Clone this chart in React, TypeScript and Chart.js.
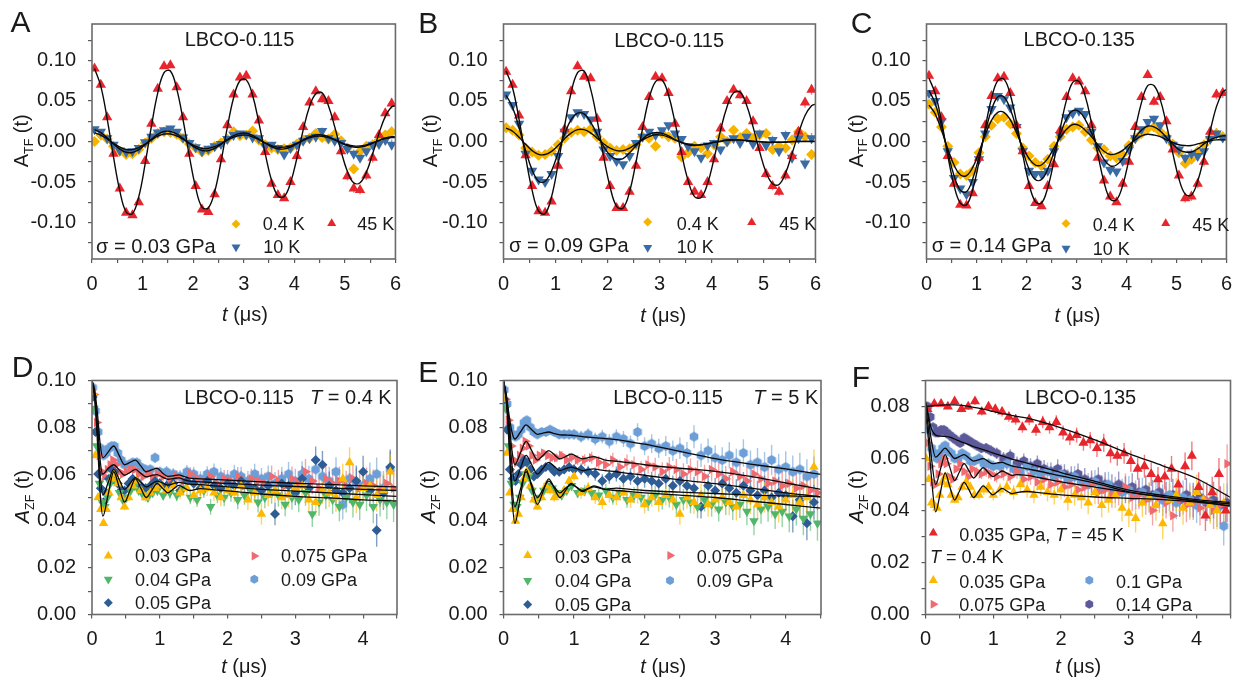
import React, { useEffect, useRef } from 'react';
import { Chart, registerables } from 'chart.js';

Chart.register(...registerables);

const FONT = '"Liberation Sans", Arial, Helvetica, sans-serif';
const INK = '#1a1a1a';

// ---------------- axis ticks ----------------
const xTicksTF = [0, 0.5, 1, 1.5, 2, 2.5, 3, 3.5, 4, 4.5, 5, 5.5, 6];
const xLabelsTF = [0, 1, 2, 3, 4, 5, 6];
const yTicksTF = [-0.125, -0.1, -0.075, -0.05, -0.025, 0, 0.025, 0.05, 0.075, 0.1, 0.125];
const yLabelsTF = [-0.1, -0.05, 0, 0.05, 0.1];
const xTicksZF = [0, 0.5, 1, 1.5, 2, 2.5, 3, 3.5, 4, 4.5];
const xLabelsZF = [0, 1, 2, 3, 4];
const yTicksZF = [0, 0.01, 0.02, 0.03, 0.04, 0.05, 0.06, 0.07, 0.08, 0.09, 0.1];
const yLabelsZF = [0, 0.02, 0.04, 0.06, 0.08, 0.1];
const yTicksF = [0, 0.01, 0.02, 0.03, 0.04, 0.05, 0.06, 0.07, 0.08, 0.09];
const yLabelsF = [0, 0.02, 0.04, 0.06, 0.08];

// ---------------- TF panels (A, B, C) ----------------
const tTF = [
  0.05, 0.175, 0.3, 0.425, 0.55, 0.675, 0.8, 0.925, 1.05, 1.175, 1.3, 1.425,
  1.55, 1.675, 1.8, 1.925, 2.05, 2.175, 2.3, 2.425, 2.55, 2.675, 2.8, 2.925,
  3.05, 3.175, 3.3, 3.425, 3.55, 3.675, 3.8, 3.925, 4.05, 4.175, 4.3, 4.425,
  4.55, 4.675, 4.8, 4.925, 5.05, 5.175, 5.3, 5.425, 5.55, 5.675, 5.8, 5.925,
];
const tFitTF = [
  0.05, 0.175, 0.3, 0.425, 0.55, 0.675, 0.8, 0.925, 1.05, 1.175, 1.3, 1.425,
  1.55, 1.675, 1.8, 1.925, 2.05, 2.175, 2.3, 2.425, 2.55, 2.675, 2.8, 2.925,
  3.05, 3.175, 3.3, 3.425, 3.55, 3.675, 3.8, 3.925, 4.05, 4.175, 4.3, 4.425,
  4.55, 4.675, 4.8, 4.925, 5.05, 5.175, 5.3, 5.425, 5.55, 5.675, 5.8, 5.925, 6.0,
];
const errTF = [
  0.001, 0.001, 0.001, 0.001, 0.0012, 0.0012, 0.0012, 0.0013, 0.0013, 0.0014, 0.0014, 0.0015,
  0.0016, 0.0017, 0.0018, 0.0019, 0.002, 0.0021, 0.0022, 0.0023, 0.0024, 0.0025, 0.0026, 0.0027,
  0.0028, 0.0029, 0.003, 0.0031, 0.0032, 0.0033, 0.0034, 0.0035, 0.0036, 0.0037, 0.0038, 0.004,
  0.0042, 0.0044, 0.0046, 0.0048, 0.005, 0.0052, 0.0054, 0.0056, 0.0058, 0.006, 0.0062, 0.0064,
];

// Panel A (LBCO-0.115, 0.03 GPa)
const aRed = [
  0.090, 0.070, 0.030, -0.015, -0.058, -0.088, -0.091, -0.075, -0.024, 0.022, 0.065, 0.093,
  0.094, 0.067, 0.030, -0.015, -0.055, -0.084, -0.087, -0.065, -0.022, 0.020, 0.058, 0.079,
  0.081, 0.058, 0.026, -0.013, -0.052, -0.066, -0.070, -0.050, -0.018, 0.018, 0.048, 0.062,
  0.052, 0.050, 0.030, -0.012, -0.043, -0.058, -0.060, -0.042, -0.020, 0.008, 0.035, 0.047,
];
const aBlue = [
  0.015, 0.012, 0.004, -0.004, -0.011, -0.013, -0.012, -0.008, -0.001, 0.006, 0.011, 0.014,
  0.016, 0.012, 0.005, -0.002, -0.007, -0.012, -0.009, -0.006, -0.003, 0.003, 0.008, 0.010,
  0.009, 0.005, 0.004, -0.006, -0.004, -0.008, -0.016, -0.008, -0.004, 0.001, 0.004, 0.006,
  0.013, 0.004, 0.001, -0.002, -0.009, -0.015, -0.020, -0.012, -0.004, -0.003, 0.002, -0.004,
];
const aYellow = [
  0.000, 0.008, 0.003, -0.006, -0.012, -0.016, -0.015, -0.010, -0.002, 0.004, 0.010, 0.012,
  0.011, 0.009, 0.004, -0.003, -0.008, -0.013, -0.011, -0.006, -0.002, 0.003, 0.012, 0.007,
  0.008, 0.013, 0.002, -0.004, -0.008, -0.010, -0.009, -0.008, -0.003, 0.002, 0.004, 0.010,
  0.005, 0.003, 0.009, 0.001, -0.008, -0.034, -0.012, -0.006, -0.004, 0.002, 0.008, 0.012,
];
const aFitRed = [
  0.090, 0.068, 0.028, -0.019, -0.061, -0.087, -0.089, -0.068, -0.028, 0.019, 0.060, 0.085,
  0.087, 0.065, 0.027, -0.018, -0.057, -0.081, -0.082, -0.062, -0.025, 0.017, 0.054, 0.075,
  0.076, 0.057, 0.023, -0.015, -0.048, -0.067, -0.068, -0.051, -0.021, 0.014, 0.043, 0.059,
  0.060, 0.044, 0.018, -0.012, -0.037, -0.051, -0.051, -0.038, -0.015, 0.010, 0.031, 0.043, 0.044,
];
const aFitYellow = [
  0.0146, 0.0109, 0.0045, -0.003, -0.0095, -0.0133, -0.0135, -0.0101, -0.0041, 0.0027, 0.0088, 0.0123,
  0.0124, 0.0093, 0.0038, -0.0025, -0.008, -0.0111, -0.0113, -0.0085, -0.0035, 0.0023, 0.0072, 0.0101,
  0.0102, 0.0076, 0.0031, -0.0021, -0.0065, -0.009, -0.0091, -0.0068, -0.0028, 0.0018, 0.0058, 0.008,
  0.008, 0.0059, 0.0024, -0.0016, -0.005, -0.0068, -0.0069, -0.0051, -0.0021, 0.0014, 0.0042, 0.0058, 0.006,
];
const aFitBlue = [
  0.0107, 0.008, 0.0033, -0.0022, -0.007, -0.0098, -0.01, -0.0075, -0.0031, 0.002, 0.0065, 0.0091,
  0.0093, 0.0069, 0.0028, -0.0019, -0.006, -0.0084, -0.0085, -0.0064, -0.0026, 0.0017, 0.0055, 0.0077,
  0.0078, 0.0058, 0.0024, -0.0016, -0.005, -0.0069, -0.007, -0.0053, -0.0022, 0.0014, 0.0045, 0.0063,
  0.0064, 0.0047, 0.0019, -0.0013, -0.004, -0.0055, -0.0056, -0.0042, -0.0017, 0.0011, 0.0035, 0.0049, 0.005,
];

// Panel B (LBCO-0.115, 0.09 GPa)
const bRed = [
  0.086, 0.070, 0.032, -0.017, -0.055, -0.086, -0.088, -0.074, -0.030, 0.015, 0.062, 0.093,
  0.080, 0.078, 0.028, -0.020, -0.055, -0.082, -0.082, -0.062, -0.030, 0.018, 0.055, 0.080,
  0.078, 0.060, 0.022, -0.013, -0.050, -0.062, -0.066, -0.050, -0.022, 0.016, 0.050, 0.064,
  0.057, 0.050, 0.025, -0.008, -0.040, -0.055, -0.062, -0.042, -0.018, 0.012, 0.048, 0.064,
];
const bBlue = [
  0.058, 0.045, 0.022, -0.015, -0.036, -0.047, -0.050, -0.040, -0.018, 0.012, 0.030, 0.036,
  0.034, 0.027, 0.012, -0.010, -0.018, -0.024, -0.028, -0.018, -0.002, 0.006, 0.012, 0.008,
  0.014, 0.020, 0.010, 0.003, -0.006, -0.012, -0.020, -0.005, -0.002, -0.010, 0.000, 0.004,
  -0.002, 0.006, -0.003, 0.010, -0.005, 0.002, -0.012, 0.008, -0.020, 0.004, -0.027, 0.004,
];
const bYellow = [
  0.017, 0.014, 0.008, -0.008, -0.013, -0.017, -0.016, -0.012, -0.004, 0.004, 0.011, 0.014,
  0.012, 0.015, 0.006, -0.002, -0.008, -0.011, -0.010, -0.009, -0.004, 0.006, 0.004, -0.006,
  0.010, 0.006, 0.004, -0.019, -0.014, -0.006, -0.008, -0.015, -0.004, 0.006, 0.000, 0.014,
  0.005, 0.010, 0.004, 0.008, 0.010, -0.010, -0.006, -0.008, 0.002, 0.012, 0.006, -0.016,
];
const bFitRed = [
  0.087, 0.066, 0.027, -0.019, -0.060, -0.086, -0.089, -0.068, -0.028, 0.019, 0.060, 0.085,
  0.087, 0.065, 0.027, -0.018, -0.056, -0.080, -0.082, -0.062, -0.025, 0.016, 0.053, 0.074,
  0.076, 0.057, 0.023, -0.015, -0.048, -0.068, -0.069, -0.052, -0.021, 0.014, 0.043, 0.060,
  0.061, 0.045, 0.018, -0.012, -0.038, -0.052, -0.053, -0.039, -0.015, 0.010, 0.032, 0.044, 0.046,
];
const bFitBlue = [
  0.057, 0.042, 0.017, -0.011, -0.035, -0.049, -0.049, -0.036, -0.014, 0.009, 0.027, 0.035,
  0.034, 0.024, 0.009, -0.006, -0.017, -0.022, -0.021, -0.014, -0.005, 0.003, 0.009, 0.011,
  0.010, 0.007, 0.002, -0.001, -0.004, -0.005, -0.004, -0.003, -0.001, 0.000, 0.002, 0.002,
  0.002, 0.001, 0.000, 0.000, -0.001, -0.001, -0.001, -0.001, 0.000, 0.000, 0.000, 0.000, 0.000,
];
const bFitYellow = [
  0.0166, 0.0126, 0.0052, -0.0035, -0.0112, -0.0158, -0.0161, -0.0121, -0.0049, 0.0033, 0.0104, 0.0146,
  0.0146, 0.0107, 0.0042, -0.0027, -0.0083, -0.0113, -0.0112, -0.0081, -0.0032, 0.002, 0.0061, 0.0083,
  0.0078, 0.0054, 0.002, -0.0012, -0.0034, -0.0042, -0.0039, -0.0026, -0.0009, 0.0005, 0.0014, 0.0019,
  0.0019, 0.0013, 0.0005, -0.0003, -0.0008, -0.001, -0.0009, -0.0006, -0.0002, 0.0001, 0.0002, 0.0002, 0.0002,
];

// Panel C (LBCO-0.135, 0.14 GPa)
const cRed = [
  0.081, 0.062, 0.030, -0.018, -0.052, -0.078, -0.079, -0.064, -0.020, 0.020, 0.056, 0.078,
  0.080, 0.060, 0.020, -0.012, -0.055, -0.076, -0.080, -0.055, -0.028, 0.014, 0.055, 0.078,
  0.074, 0.062, 0.020, -0.020, -0.048, -0.068, -0.075, -0.052, -0.025, 0.018, 0.055, 0.082,
  0.049, 0.055, 0.025, -0.010, -0.042, -0.070, -0.068, -0.052, -0.025, 0.012, 0.058, 0.060,
];
const cBlue = [
  0.060, 0.050, 0.025, -0.012, -0.045, -0.058, -0.065, -0.050, -0.022, 0.010, 0.040, 0.056,
  0.052, 0.042, 0.018, -0.012, -0.036, -0.040, -0.040, -0.036, -0.012, 0.008, 0.030, 0.035,
  0.038, 0.034, 0.012, -0.006, -0.026, -0.035, -0.037, -0.024, -0.010, 0.004, 0.015, 0.024,
  0.028, 0.020, 0.004, -0.004, -0.010, -0.020, -0.015, -0.018, -0.012, 0.003, 0.010, 0.005,
];
const cYellow = [
  0.046, 0.036, 0.018, -0.006, -0.026, -0.040, -0.042, -0.036, -0.014, 0.006, 0.020, 0.028,
  0.030, 0.022, 0.010, -0.008, -0.018, -0.026, -0.030, -0.022, -0.006, 0.006, 0.015, 0.018,
  0.020, 0.012, 0.002, -0.008, -0.010, -0.018, -0.020, -0.016, -0.005, 0.004, 0.010, 0.016,
  0.018, 0.012, 0.006, -0.003, -0.014, -0.027, -0.022, -0.012, -0.004, 0.004, 0.010, 0.006,
];
const cFitRed = [
  0.078, 0.059, 0.025, -0.017, -0.054, -0.076, -0.078, -0.059, -0.025, 0.017, 0.053, 0.075,
  0.077, 0.058, 0.024, -0.016, -0.052, -0.074, -0.076, -0.057, -0.024, 0.016, 0.051, 0.073,
  0.074, 0.056, 0.023, -0.015, -0.050, -0.071, -0.072, -0.054, -0.022, 0.015, 0.048, 0.069,
  0.069, 0.052, 0.021, -0.014, -0.046, -0.065, -0.066, -0.049, -0.020, 0.013, 0.043, 0.061, 0.064,
];
const cFitBlue = [
  0.063, 0.047, 0.019, -0.013, -0.042, -0.060, -0.062, -0.046, -0.019, 0.012, 0.039, 0.055,
  0.055, 0.040, 0.016, -0.011, -0.034, -0.047, -0.047, -0.034, -0.013, 0.009, 0.028, 0.038,
  0.037, 0.027, 0.011, -0.007, -0.022, -0.030, -0.029, -0.021, -0.008, 0.005, 0.014, 0.019,
  0.018, 0.013, 0.005, -0.003, -0.010, -0.013, -0.013, -0.009, -0.003, 0.002, 0.005, 0.007, 0.007,
];
const cFitYellow = [
  0.045, 0.034, 0.014, -0.009, -0.029, -0.041, -0.042, -0.032, -0.013, 0.008, 0.026, 0.036,
  0.036, 0.027, 0.011, -0.007, -0.021, -0.029, -0.029, -0.021, -0.008, 0.005, 0.015, 0.021,
  0.020, 0.014, 0.006, -0.004, -0.012, -0.016, -0.015, -0.011, -0.004, 0.002, 0.007, 0.009,
  0.008, 0.006, 0.002, -0.001, -0.004, -0.005, -0.005, -0.003, -0.001, 0.001, 0.002, 0.002, 0.002,
];

// ---------------- ZF panels (D, E, F) ----------------
const tZFa = [
  0.01, 0.05, 0.09, 0.13, 0.17, 0.21, 0.25, 0.29, 0.33, 0.38, 0.43, 0.48, 0.54, 0.6, 0.66, 0.72, 0.79, 0.86, 0.93, 1.0,
  1.1, 1.2, 1.3, 1.4, 1.5, 1.6, 1.7, 1.8, 1.9, 2.0, 2.1, 2.2, 2.3, 2.4, 2.5, 2.6, 2.7, 2.8, 2.9, 3.0,
  3.1, 3.2, 3.3, 3.4, 3.5, 3.6, 3.7, 3.8, 3.9, 4.0, 4.1, 4.2, 4.3, 4.4,
];
const tZFb = [
  0.03, 0.07, 0.11, 0.15, 0.19, 0.23, 0.27, 0.31, 0.355, 0.405, 0.455, 0.51, 0.57, 0.63, 0.69, 0.755, 0.825, 0.895, 0.965, 1.05,
  1.15, 1.25, 1.35, 1.45, 1.55, 1.65, 1.75, 1.85, 1.95, 2.05, 2.15, 2.25, 2.35, 2.45, 2.55, 2.65, 2.75, 2.85, 2.95, 3.05,
  3.15, 3.25, 3.35, 3.45, 3.55, 3.65, 3.75, 3.85, 3.95, 4.05, 4.15, 4.25, 4.35, 4.45,
];
const errZF = [
  0.0005, 0.0005, 0.0006, 0.0007, 0.0008, 0.0009, 0.001, 0.001, 0.0011, 0.0012,
  0.0013, 0.0014, 0.0015, 0.0016, 0.0017, 0.0018, 0.0019, 0.002, 0.0021, 0.0022,
  0.0025, 0.0026, 0.0028, 0.0029, 0.0031, 0.0032, 0.0034, 0.0035, 0.0037, 0.0038,
  0.004, 0.0041, 0.0043, 0.0044, 0.0046, 0.0047, 0.0049, 0.005, 0.0052, 0.0053,
  0.0055, 0.0056, 0.0058, 0.0059, 0.0061, 0.0062, 0.0064, 0.0065, 0.0067, 0.0068,
  0.007, 0.0071, 0.0073, 0.0075,
];
const tFitZF = [0, 0.04, 0.08, 0.12, 0.16, 0.24, 0.32, 0.4, 0.48, 0.56, 0.64, 0.72, 0.8, 0.88, 0.96, 1.04, 1.12, 1.2, 1.28, 1.36, 1.44, 1.6, 1.8, 2.0, 2.5, 3.0, 3.5, 4.0, 4.5];

// Panel D (LBCO-0.115, T = 0.4 K)
const d003 = [
  0.095, 0.068, 0.050, 0.045, 0.039, 0.045, 0.052, 0.058, 0.060, 0.056, 0.050, 0.046, 0.050, 0.055, 0.057, 0.053, 0.050, 0.052, 0.054, 0.055,
  0.053, 0.055, 0.052, 0.054, 0.051, 0.053, 0.054, 0.052, 0.050, 0.053, 0.052, 0.055, 0.049, 0.052, 0.043, 0.051, 0.053, 0.050, 0.051, 0.054,
  0.055, 0.049, 0.048, 0.053, 0.052, 0.050, 0.058, 0.065, 0.050, 0.054, 0.055, 0.051, 0.053, 0.061,
];
const d004 = [
  0.088, 0.072, 0.056, 0.048, 0.046, 0.050, 0.056, 0.059, 0.057, 0.052, 0.049, 0.050, 0.053, 0.055, 0.053, 0.051, 0.050, 0.052, 0.053, 0.051,
  0.052, 0.051, 0.054, 0.050, 0.049, 0.053, 0.046, 0.051, 0.050, 0.052, 0.049, 0.051, 0.053, 0.048, 0.050, 0.052, 0.051, 0.047, 0.050, 0.049,
  0.052, 0.043, 0.048, 0.051, 0.049, 0.046, 0.050, 0.048, 0.047, 0.051, 0.046, 0.049, 0.048, 0.047,
];
const d005 = [
  0.093, 0.078, 0.060, 0.054, 0.048, 0.052, 0.058, 0.062, 0.061, 0.056, 0.053, 0.053, 0.056, 0.058, 0.057, 0.055, 0.054, 0.055, 0.057, 0.056,
  0.055, 0.056, 0.053, 0.057, 0.056, 0.054, 0.057, 0.055, 0.054, 0.056, 0.055, 0.057, 0.055, 0.054, 0.053, 0.055, 0.043, 0.056, 0.055, 0.052,
  0.058, 0.054, 0.066, 0.064, 0.055, 0.053, 0.052, 0.054, 0.057, 0.061, 0.053, 0.036, 0.052, 0.063,
];
const d0075 = [
  0.094, 0.082, 0.068, 0.061, 0.059, 0.062, 0.064, 0.066, 0.064, 0.061, 0.060, 0.061, 0.062, 0.062, 0.060, 0.059, 0.060, 0.059, 0.060, 0.059,
  0.058, 0.059, 0.057, 0.060, 0.058, 0.057, 0.059, 0.056, 0.058, 0.057, 0.059, 0.055, 0.058, 0.057, 0.056, 0.059, 0.057, 0.055, 0.058, 0.056,
  0.061, 0.057, 0.054, 0.058, 0.056, 0.057, 0.055, 0.058, 0.054, 0.056, 0.055, 0.053, 0.056, 0.054,
];
const d009 = [
  0.097, 0.087, 0.078, 0.071, 0.068, 0.069, 0.071, 0.072, 0.072, 0.069, 0.066, 0.064, 0.064, 0.065, 0.065, 0.063, 0.062, 0.062, 0.067, 0.061,
  0.061, 0.060, 0.059, 0.061, 0.060, 0.058, 0.060, 0.061, 0.059, 0.058, 0.060, 0.059, 0.057, 0.060, 0.058, 0.059, 0.056, 0.058, 0.060, 0.057,
  0.060, 0.058, 0.062, 0.059, 0.057, 0.061, 0.047, 0.058, 0.056, 0.055, 0.058, 0.060, 0.054, 0.062,
];
const dFit009 = [0.1, 0.096, 0.086, 0.073, 0.067, 0.0695, 0.072, 0.068, 0.064, 0.065, 0.066, 0.0635, 0.061, 0.0618, 0.0625, 0.0605, 0.059, 0.0592, 0.0597, 0.059, 0.0583, 0.058, 0.0577, 0.0574, 0.0567, 0.0561, 0.0556, 0.055, 0.0545];
const dFit0075 = [0.1, 0.094, 0.082, 0.066, 0.06, 0.0625, 0.064, 0.0618, 0.0595, 0.0607, 0.062, 0.0603, 0.0588, 0.0594, 0.0598, 0.0587, 0.0578, 0.0581, 0.0584, 0.0576, 0.057, 0.0567, 0.0563, 0.056, 0.0553, 0.0547, 0.0541, 0.0535, 0.053];
const dFit005 = [0.1, 0.093, 0.078, 0.06, 0.051, 0.0565, 0.062, 0.0578, 0.0535, 0.056, 0.0585, 0.0565, 0.0545, 0.0558, 0.057, 0.0562, 0.0553, 0.0559, 0.0565, 0.0561, 0.0557, 0.0555, 0.055, 0.0545, 0.0535, 0.0527, 0.052, 0.0512, 0.0505];
const dFit003 = [0.1, 0.092, 0.074, 0.052, 0.042, 0.0515, 0.061, 0.0545, 0.048, 0.053, 0.058, 0.054, 0.05, 0.053, 0.056, 0.054, 0.052, 0.0536, 0.0552, 0.0541, 0.053, 0.0538, 0.0533, 0.0528, 0.0515, 0.0505, 0.0498, 0.049, 0.0485];

// Panel E (LBCO-0.115, T = 5 K)
const e003 = [
  0.092, 0.069, 0.052, 0.045, 0.040, 0.043, 0.050, 0.058, 0.061, 0.055, 0.049, 0.046, 0.050, 0.055, 0.053, 0.050, 0.051, 0.053, 0.057, 0.059,
  0.052, 0.054, 0.050, 0.048, 0.051, 0.050, 0.052, 0.049, 0.051, 0.047, 0.050, 0.048, 0.051, 0.049, 0.043, 0.050, 0.048, 0.051, 0.047, 0.049,
  0.050, 0.048, 0.046, 0.051, 0.049, 0.047, 0.050, 0.048, 0.046, 0.049, 0.051, 0.048, 0.050, 0.063,
];
const e004 = [
  0.088, 0.072, 0.056, 0.047, 0.046, 0.050, 0.056, 0.060, 0.059, 0.053, 0.049, 0.050, 0.053, 0.055, 0.054, 0.052, 0.051, 0.053, 0.055, 0.052,
  0.053, 0.052, 0.051, 0.053, 0.050, 0.052, 0.049, 0.051, 0.050, 0.048, 0.051, 0.049, 0.050, 0.047, 0.049, 0.048, 0.046, 0.049, 0.047, 0.045,
  0.048, 0.046, 0.047, 0.044, 0.040, 0.045, 0.046, 0.043, 0.044, 0.042, 0.045, 0.041, 0.043, 0.039,
];
const e005 = [
  0.092, 0.079, 0.062, 0.058, 0.057, 0.060, 0.064, 0.066, 0.065, 0.062, 0.059, 0.060, 0.062, 0.063, 0.063, 0.061, 0.061, 0.062, 0.063, 0.062,
  0.062, 0.061, 0.060, 0.057, 0.059, 0.060, 0.058, 0.059, 0.057, 0.058, 0.057, 0.056, 0.058, 0.055, 0.057, 0.055, 0.054, 0.046, 0.055, 0.053,
  0.056, 0.054, 0.052, 0.055, 0.053, 0.051, 0.053, 0.050, 0.052, 0.051, 0.042, 0.049, 0.039, 0.048,
];
const e0075 = [
  0.092, 0.083, 0.072, 0.066, 0.065, 0.068, 0.071, 0.074, 0.072, 0.068, 0.066, 0.068, 0.069, 0.068, 0.067, 0.067, 0.068, 0.066, 0.067, 0.066,
  0.066, 0.067, 0.065, 0.064, 0.066, 0.063, 0.065, 0.064, 0.062, 0.064, 0.063, 0.061, 0.063, 0.062, 0.060, 0.062, 0.061, 0.059, 0.062, 0.060,
  0.058, 0.061, 0.059, 0.057, 0.060, 0.058, 0.056, 0.057, 0.055, 0.056, 0.054, 0.055, 0.053, 0.052,
];
const e009 = [
  0.096, 0.090, 0.080, 0.077, 0.076, 0.077, 0.079, 0.082, 0.083, 0.080, 0.078, 0.077, 0.078, 0.078, 0.079, 0.078, 0.077, 0.077, 0.077, 0.077,
  0.076, 0.077, 0.075, 0.076, 0.074, 0.076, 0.075, 0.073, 0.078, 0.072, 0.073, 0.071, 0.072, 0.070, 0.071, 0.069, 0.076, 0.068, 0.070, 0.067,
  0.066, 0.068, 0.065, 0.069, 0.064, 0.065, 0.063, 0.066, 0.062, 0.063, 0.061, 0.062, 0.059, 0.060,
];
const eFit009 = [0.1, 0.094, 0.085, 0.078, 0.075, 0.078, 0.081, 0.079, 0.077, 0.0775, 0.078, 0.0773, 0.0768, 0.0767, 0.0766, 0.0763, 0.076, 0.0758, 0.0756, 0.0754, 0.0752, 0.0747, 0.0738, 0.0728, 0.0697, 0.0666, 0.0643, 0.0622, 0.0599];
const eFit0075 = [0.1, 0.093, 0.082, 0.07, 0.064, 0.069, 0.074, 0.07, 0.066, 0.068, 0.07, 0.0683, 0.0665, 0.0675, 0.0685, 0.0675, 0.0665, 0.067, 0.0675, 0.0668, 0.066, 0.0655, 0.0648, 0.064, 0.0625, 0.0612, 0.059, 0.0562, 0.0535];
const eFit005 = [0.1, 0.092, 0.079, 0.064, 0.057, 0.0625, 0.068, 0.064, 0.06, 0.0625, 0.065, 0.0633, 0.0615, 0.0623, 0.063, 0.0623, 0.0615, 0.0619, 0.0622, 0.0618, 0.0615, 0.061, 0.0602, 0.0595, 0.0575, 0.0559, 0.054, 0.052, 0.0503];
const eFit004 = [0.1, 0.092, 0.075, 0.055, 0.046, 0.0535, 0.061, 0.0555, 0.05, 0.0535, 0.057, 0.0545, 0.052, 0.054, 0.0555, 0.0543, 0.053, 0.0538, 0.0545, 0.054, 0.0535, 0.053, 0.0525, 0.052, 0.051, 0.05, 0.0485, 0.047, 0.0455];
const eFit003 = [0.1, 0.091, 0.072, 0.05, 0.039, 0.0505, 0.062, 0.0545, 0.047, 0.0525, 0.058, 0.054, 0.05, 0.053, 0.056, 0.0543, 0.0525, 0.0538, 0.055, 0.0543, 0.0535, 0.054, 0.0535, 0.053, 0.0523, 0.0517, 0.051, 0.0507, 0.0503];

// Panel F (LBCO-0.135)
const tF45 = [
  0.03, 0.13, 0.23, 0.33, 0.43, 0.53, 0.63, 0.73, 0.83, 0.93, 1.03, 1.13, 1.23, 1.33, 1.43,
  1.53, 1.63, 1.73, 1.83, 1.93, 2.03, 2.13, 2.23, 2.33, 2.43, 2.53, 2.63, 2.73, 2.83, 2.93,
  3.03, 3.13, 3.23, 3.33, 3.43, 3.53, 3.63, 3.73, 3.83, 3.93, 4.03, 4.13, 4.23, 4.33, 4.43,
];
const errF45 = [
  0.0008, 0.0008, 0.0009, 0.001, 0.0011, 0.0012, 0.0013, 0.0014, 0.0015, 0.0016, 0.0017, 0.0018, 0.0019, 0.002, 0.0021,
  0.0022, 0.0023, 0.0024, 0.0025, 0.0026, 0.0027, 0.0028, 0.0029, 0.003, 0.0032, 0.0034, 0.0035, 0.0036, 0.0038, 0.004,
  0.0041, 0.0042, 0.0044, 0.0046, 0.0047, 0.0048, 0.005, 0.0052, 0.0053, 0.0055, 0.0057, 0.0059, 0.006, 0.0062, 0.0064,
];
const f45K = [
  0.079, 0.081, 0.081, 0.080, 0.082, 0.079, 0.080, 0.082, 0.078, 0.080, 0.079, 0.078, 0.076, 0.075, 0.072,
  0.075, 0.071, 0.074, 0.072, 0.074, 0.070, 0.068, 0.069, 0.066, 0.067, 0.064, 0.066, 0.062, 0.061, 0.062,
  0.059, 0.056, 0.057, 0.054, 0.052, 0.053, 0.056, 0.050, 0.057, 0.061, 0.049, 0.038, 0.047, 0.054, 0.040,
];
const f0035 = [
  0.060, 0.052, 0.043, 0.042, 0.041, 0.046, 0.051, 0.053, 0.050, 0.046, 0.044, 0.045, 0.049, 0.051, 0.049, 0.046, 0.046, 0.048, 0.049, 0.046,
  0.048, 0.049, 0.047, 0.050, 0.048, 0.046, 0.049, 0.047, 0.046, 0.048, 0.044, 0.046, 0.045, 0.043, 0.047, 0.042, 0.044, 0.046, 0.041, 0.039,
  0.037, 0.043, 0.045, 0.042, 0.035, 0.044, 0.046, 0.041, 0.043, 0.047, 0.044, 0.042, 0.040, 0.043,
];
const f0075 = [
  0.066, 0.057, 0.051, 0.050, 0.054, 0.058, 0.060, 0.058, 0.053, 0.052, 0.056, 0.058, 0.055, 0.053, 0.056, 0.055, 0.054, 0.055, 0.054, 0.053,
  0.054, 0.053, 0.055, 0.052, 0.053, 0.051, 0.052, 0.050, 0.051, 0.049, 0.050, 0.048, 0.049, 0.050, 0.047, 0.048, 0.046, 0.047, 0.049, 0.045,
  0.046, 0.044, 0.040, 0.045, 0.043, 0.038, 0.044, 0.042, 0.043, 0.041, 0.044, 0.040, 0.042, 0.058,
];
const f01 = [
  0.079, 0.071, 0.064, 0.062, 0.060, 0.062, 0.064, 0.065, 0.063, 0.062, 0.060, 0.060, 0.062, 0.061, 0.059, 0.059, 0.060, 0.058, 0.058, 0.057,
  0.057, 0.058, 0.056, 0.055, 0.057, 0.055, 0.054, 0.055, 0.053, 0.054, 0.052, 0.053, 0.051, 0.050, 0.051, 0.049, 0.050, 0.048, 0.047, 0.048,
  0.046, 0.047, 0.045, 0.046, 0.044, 0.046, 0.043, 0.045, 0.044, 0.042, 0.044, 0.043, 0.041, 0.034,
];
const f014 = [
  0.080, 0.076, 0.072, 0.070, 0.070, 0.071, 0.071, 0.070, 0.069, 0.068, 0.067, 0.066, 0.068, 0.067, 0.066, 0.065, 0.064, 0.064, 0.063, 0.062,
  0.060, 0.061, 0.058, 0.059, 0.057, 0.058, 0.056, 0.055, 0.056, 0.054, 0.053, 0.054, 0.052, 0.051, 0.052, 0.050, 0.049, 0.050, 0.048, 0.049,
  0.047, 0.048, 0.046, 0.047, 0.045, 0.046, 0.044, 0.046, 0.044, 0.045, 0.043, 0.044, 0.042, 0.043,
];
const tFitF = [0, 0.04, 0.08, 0.15, 0.22, 0.29, 0.36, 0.43, 0.5, 0.57, 0.64, 0.71, 0.78, 0.85, 0.92, 0.99, 1.06, 1.13, 1.2, 1.27, 1.34, 1.5, 1.7, 2.0, 2.5, 3.0, 3.5, 4.0, 4.5];
const fFit45K = [0.08, 0.0801, 0.0802, 0.0804, 0.0805, 0.0806, 0.0806, 0.0806, 0.0805, 0.0803, 0.08, 0.0797, 0.0794, 0.079, 0.0786, 0.0781, 0.0777, 0.0773, 0.077, 0.0766, 0.0762, 0.0755, 0.0742, 0.0718, 0.0672, 0.0619, 0.0572, 0.0523, 0.045];
const fFit014 = [0.082, 0.077, 0.072, 0.069, 0.0686, 0.0685, 0.0682, 0.0675, 0.0667, 0.066, 0.0653, 0.0646, 0.064, 0.0634, 0.0628, 0.0622, 0.0616, 0.061, 0.0604, 0.0598, 0.0593, 0.0582, 0.0568, 0.0546, 0.0512, 0.0478, 0.0458, 0.0442, 0.043];
const fFit01 = [0.082, 0.076, 0.068, 0.0605, 0.0622, 0.064, 0.062, 0.06, 0.0607, 0.0615, 0.0602, 0.059, 0.0595, 0.06, 0.059, 0.058, 0.0583, 0.0585, 0.0578, 0.0572, 0.0568, 0.056, 0.055, 0.0533, 0.0505, 0.0472, 0.0452, 0.0437, 0.0425];
const fFit0075 = [0.08, 0.072, 0.062, 0.05, 0.0558, 0.0615, 0.0565, 0.0515, 0.0548, 0.058, 0.0553, 0.0525, 0.0545, 0.0565, 0.0548, 0.053, 0.0541, 0.0552, 0.0544, 0.0535, 0.0538, 0.0535, 0.0525, 0.051, 0.049, 0.047, 0.0452, 0.0435, 0.0418];
const fFit0035 = [0.078, 0.068, 0.055, 0.0395, 0.047, 0.0545, 0.049, 0.044, 0.0474, 0.0508, 0.048, 0.045, 0.0472, 0.0495, 0.0478, 0.046, 0.0472, 0.0485, 0.0475, 0.0465, 0.0469, 0.0473, 0.0468, 0.046, 0.0452, 0.0447, 0.0442, 0.0432, 0.0418];

// ---------------- colours ----------------
const TF_YEL = '#F6B400';
const TF_BLU = '#3A6BA5';
const TF_RED = '#E8242C';
const ZF_YEL = '#FCB900';
const ZF_GRN = '#50B66A';
const ZF_DBL = '#2E5D96';
const ZF_PNK = '#F06B6F';
const ZF_LBL = '#6C9ED7';
const ZF_PUR = '#5C5A9A';

type Shape = 'up' | 'down' | 'right' | 'diamond' | 'hex';
type Series = { t: number[]; y: number[]; err: number[]; color: string; shape: Shape; r: number };
type Fit = { t: number[]; y: number[] };
type Seg = { s: string; it?: boolean; size: number; dy?: number };
type TextItem = { x: number; y: number; segs: Seg[]; align?: 'left' | 'center' };
type Marker = { shape: Shape; x: number; y: number; r: number; color: string };
type Panel = {
  key: string;
  box: [number, number, number, number];
  plot: [number, number, number, number];
  xMax: number; yMin: number; yMax: number;
  xTicks: number[]; xLabels: number[]; yTicks: number[]; yLabels: number[];
  series: Series[]; fits: Fit[]; monotone: boolean; fitWidth: number;
  texts: TextItem[]; markers: Marker[];
  yTitle: { x: number; y: number; sub: string; italicA: boolean };
  xTitle: { x: number; y: number };
};

const T = (x: number, y: number, s: string, size: number, align: 'left' | 'center' = 'left'): TextItem => ({ x, y, segs: [{ s, size }], align });

const panels: Panel[] = [
  {
    key: 'A', box: [0, 0, 410, 340], plot: [92, 22, 397, 259],
    xMax: 6, yMin: -0.145, yMax: 0.145, xTicks: xTicksTF, xLabels: xLabelsTF, yTicks: yTicksTF, yLabels: yLabelsTF,
    series: [
      { t: tTF, y: aRed, err: errTF, color: TF_RED, shape: 'up', r: 6 },
      { t: tTF, y: aBlue, err: errTF, color: TF_BLU, shape: 'down', r: 6 },
      { t: tTF, y: aYellow, err: errTF, color: TF_YEL, shape: 'diamond', r: 5.5 },
    ],
    fits: [{ t: tFitTF, y: aFitRed }, { t: tFitTF, y: aFitYellow }, { t: tFitTF, y: aFitBlue }],
    monotone: false, fitWidth: 1.4,
    texts: [
      T(10.5, 31.7, 'A', 30), T(239.5, 45.7, 'LBCO-0.115', 20, 'center'), T(96, 253, 'σ = 0.03 GPa', 20),
      T(262.7, 230, '0.4 K', 18), T(357.3, 230, '45 K', 18), T(263.3, 253.3, '10 K', 18),
    ],
    markers: [
      { shape: 'diamond', x: 236, y: 224, r: 4.5, color: TF_YEL },
      { shape: 'up', x: 331.7, y: 223.5, r: 5.2, color: TF_RED },
      { shape: 'down', x: 236, y: 247, r: 5.2, color: TF_BLU },
    ],
    yTitle: { x: 28, y: 140.8, sub: 'TF', italicA: false }, xTitle: { x: 245, y: 321 },
  },
  {
    key: 'B', box: [410, 0, 420, 340], plot: [503.5, 22, 822.5, 259],
    xMax: 6, yMin: -0.145, yMax: 0.145, xTicks: xTicksTF, xLabels: xLabelsTF, yTicks: yTicksTF, yLabels: yLabelsTF,
    series: [
      { t: tTF, y: bRed, err: errTF, color: TF_RED, shape: 'up', r: 6 },
      { t: tTF, y: bBlue, err: errTF, color: TF_BLU, shape: 'down', r: 6 },
      { t: tTF, y: bYellow, err: errTF, color: TF_YEL, shape: 'diamond', r: 5.5 },
    ],
    fits: [{ t: tFitTF, y: bFitRed }, { t: tFitTF, y: bFitBlue }, { t: tFitTF, y: bFitYellow }],
    monotone: false, fitWidth: 1.4,
    texts: [
      T(418.3, 33.3, 'B', 30), T(669.2, 47.3, 'LBCO-0.115', 20, 'center'), T(509, 251.7, 'σ = 0.09 GPa', 20),
      T(676.7, 230, '0.4 K', 18), T(779.3, 230, '45 K', 18), T(676.7, 253.3, '10 K', 18),
    ],
    markers: [
      { shape: 'diamond', x: 647.7, y: 222, r: 4.5, color: TF_YEL },
      { shape: 'up', x: 751.7, y: 222.5, r: 5.2, color: TF_RED },
      { shape: 'down', x: 647.7, y: 247.5, r: 5.2, color: TF_BLU },
    ],
    yTitle: { x: 437.3, y: 140.8, sub: 'TF', italicA: false }, xTitle: { x: 663.3, y: 321.5 },
  },
  {
    key: 'C', box: [830, 0, 411, 340], plot: [926.5, 22, 1231, 259],
    xMax: 6, yMin: -0.145, yMax: 0.145, xTicks: xTicksTF, xLabels: xLabelsTF, yTicks: yTicksTF, yLabels: yLabelsTF,
    series: [
      { t: tTF, y: cRed, err: errTF, color: TF_RED, shape: 'up', r: 6 },
      { t: tTF, y: cBlue, err: errTF, color: TF_BLU, shape: 'down', r: 6 },
      { t: tTF, y: cYellow, err: errTF, color: TF_YEL, shape: 'diamond', r: 5.5 },
    ],
    fits: [{ t: tFitTF, y: cFitRed }, { t: tFitTF, y: cFitBlue }, { t: tFitTF, y: cFitYellow }],
    monotone: false, fitWidth: 1.4,
    texts: [
      T(850.7, 33.3, 'C', 30), T(1079.2, 45.7, 'LBCO-0.135', 20, 'center'), T(931.7, 251.7, 'σ = 0.14 GPa', 20),
      T(1092.7, 230.7, '0.4 K', 18), T(1192.3, 230.7, '45 K', 18), T(1092.7, 255, '10 K', 18),
    ],
    markers: [
      { shape: 'diamond', x: 1066, y: 223.5, r: 4.5, color: TF_YEL },
      { shape: 'up', x: 1165.7, y: 223.5, r: 5.2, color: TF_RED },
      { shape: 'down', x: 1066, y: 248.3, r: 5.2, color: TF_BLU },
    ],
    yTitle: { x: 862.7, y: 140.8, sub: 'TF', italicA: false }, xTitle: { x: 1077.5, y: 321.5 },
  },
  {
    key: 'D', box: [0, 340, 410, 344], plot: [92, 380.5, 397, 614.5],
    xMax: 4.5, yMin: 0, yMax: 0.1, xTicks: xTicksZF, xLabels: xLabelsZF, yTicks: yTicksZF, yLabels: yLabelsZF,
    series: [
      { t: tZFa, y: d003, err: errZF, color: ZF_YEL, shape: 'up', r: 5.5 },
      { t: tZFb, y: d004, err: errZF, color: ZF_GRN, shape: 'down', r: 5.5 },
      { t: tZFa, y: d005, err: errZF, color: ZF_DBL, shape: 'diamond', r: 5 },
      { t: tZFb, y: d0075, err: errZF, color: ZF_PNK, shape: 'right', r: 5.5 },
      { t: tZFa, y: d009, err: errZF, color: ZF_LBL, shape: 'hex', r: 5 },
    ],
    fits: [{ t: tFitZF, y: dFit009 }, { t: tFitZF, y: dFit0075 }, { t: tFitZF, y: dFit005 }, { t: tFitZF, y: dFit003 }],
    monotone: true, fitWidth: 1.3,
    texts: [
      T(11.7, 376.7, 'D', 30), T(184.3, 404.3, 'LBCO-0.115', 20),
      { x: 310, y: 404.3, segs: [{ s: 'T', it: true, size: 20 }, { s: ' = 0.4 K', size: 20 }] },
      T(135, 561.7, '0.03 GPa', 18), T(135, 586, '0.04 GPa', 18), T(135, 609.3, '0.05 GPa', 18),
      T(281, 561.7, '0.075 GPa', 18), T(281, 586, '0.09 GPa', 18),
    ],
    markers: [
      { shape: 'up', x: 108.3, y: 556, r: 5.2, color: ZF_YEL },
      { shape: 'down', x: 108.3, y: 579.3, r: 5.2, color: ZF_GRN },
      { shape: 'diamond', x: 108.3, y: 602.7, r: 4.5, color: ZF_DBL },
      { shape: 'right', x: 254.3, y: 556, r: 5.2, color: ZF_PNK },
      { shape: 'hex', x: 254.3, y: 579.3, r: 4.5, color: ZF_LBL },
    ],
    yTitle: { x: 29.3, y: 496.7, sub: 'ZF', italicA: true }, xTitle: { x: 244.2, y: 673.3 },
  },
  {
    key: 'E', box: [410, 340, 420, 344], plot: [503.5, 380.5, 823, 614.5],
    xMax: 4.5, yMin: 0, yMax: 0.1, xTicks: xTicksZF, xLabels: xLabelsZF, yTicks: yTicksZF, yLabels: yLabelsZF,
    series: [
      { t: tZFa, y: e003, err: errZF, color: ZF_YEL, shape: 'up', r: 5.5 },
      { t: tZFb, y: e004, err: errZF, color: ZF_GRN, shape: 'down', r: 5.5 },
      { t: tZFa, y: e005, err: errZF, color: ZF_DBL, shape: 'diamond', r: 5 },
      { t: tZFb, y: e0075, err: errZF, color: ZF_PNK, shape: 'right', r: 5.5 },
      { t: tZFa, y: e009, err: errZF, color: ZF_LBL, shape: 'hex', r: 5 },
    ],
    fits: [{ t: tFitZF, y: eFit009 }, { t: tFitZF, y: eFit0075 }, { t: tFitZF, y: eFit005 }, { t: tFitZF, y: eFit004 }, { t: tFitZF, y: eFit003 }],
    monotone: true, fitWidth: 1.3,
    texts: [
      T(418.3, 381.7, 'E', 30), T(613.3, 404.3, 'LBCO-0.115', 20),
      { x: 753.3, y: 404.3, segs: [{ s: 'T', it: true, size: 20 }, { s: ' = 5 K', size: 20 }] },
      T(555, 562.7, '0.03 GPa', 18), T(555, 587.3, '0.04 GPa', 18), T(555, 611, '0.05 GPa', 18),
      T(696.7, 562.7, '0.075 GPa', 18), T(696.7, 587.3, '0.09 GPa', 18),
    ],
    markers: [
      { shape: 'up', x: 527.7, y: 555.5, r: 5.2, color: ZF_YEL },
      { shape: 'down', x: 527.7, y: 580.5, r: 5.2, color: ZF_GRN },
      { shape: 'diamond', x: 527.7, y: 604.5, r: 4.5, color: ZF_DBL },
      { shape: 'right', x: 670, y: 555.5, r: 5.2, color: ZF_PNK },
      { shape: 'hex', x: 670, y: 580.5, r: 4.5, color: ZF_LBL },
    ],
    yTitle: { x: 435, y: 496.7, sub: 'ZF', italicA: true }, xTitle: { x: 663.3, y: 673.3 },
  },
  {
    key: 'F', box: [830, 340, 411, 344], plot: [925.5, 380.5, 1230.5, 614.5],
    xMax: 4.5, yMin: 0, yMax: 0.09, xTicks: xTicksZF, xLabels: xLabelsZF, yTicks: yTicksF, yLabels: yLabelsF,
    series: [
      { t: tF45, y: f45K, err: errF45, color: TF_RED, shape: 'up', r: 5.8 },
      { t: tZFa, y: f0035, err: errZF, color: ZF_YEL, shape: 'up', r: 5.5 },
      { t: tZFb, y: f0075, err: errZF, color: ZF_PNK, shape: 'right', r: 5.5 },
      { t: tZFa, y: f01, err: errZF, color: ZF_LBL, shape: 'hex', r: 5 },
      { t: tZFb, y: f014, err: errZF, color: ZF_PUR, shape: 'hex', r: 5 },
    ],
    fits: [{ t: tFitF, y: fFit45K }, { t: tFitF, y: fFit014 }, { t: tFitF, y: fFit01 }, { t: tFitF, y: fFit0075 }, { t: tFitF, y: fFit0035 }],
    monotone: true, fitWidth: 1.3,
    texts: [
      T(851.7, 387.3, 'F', 30), T(1025, 404, 'LBCO-0.135', 20),
      { x: 959.3, y: 541, segs: [{ s: '0.035 GPa, ', size: 18 }, { s: 'T', it: true, size: 18 }, { s: ' = 45 K', size: 18 }] },
      { x: 930, y: 563.3, segs: [{ s: 'T', it: true, size: 18 }, { s: ' = 0.4 K', size: 18 }] },
      T(959.3, 587.7, '0.035 GPa', 18), T(1116, 587.7, '0.1 GPa', 18),
      T(959.3, 611, '0.075 GPa', 18), T(1116, 611, '0.14 GPa', 18),
    ],
    markers: [
      { shape: 'up', x: 933.3, y: 533, r: 5.2, color: TF_RED },
      { shape: 'up', x: 933.3, y: 580.3, r: 5.2, color: ZF_YEL },
      { shape: 'hex', x: 1089.3, y: 580.3, r: 4.5, color: ZF_LBL },
      { shape: 'right', x: 933.3, y: 604.3, r: 5.2, color: ZF_PNK },
      { shape: 'hex', x: 1089.3, y: 604.3, r: 4.5, color: ZF_PUR },
    ],
    yTitle: { x: 863.3, y: 496.7, sub: 'ZF', italicA: true }, xTitle: { x: 1078.3, y: 673.3 },
  },
];

// ---------------- helpers ----------------
function rgba(hex: string, a: number) {
  const n = parseInt(hex.slice(1), 16);
  return `rgba(${(n >> 16) & 255},${(n >> 8) & 255},${n & 255},${a})`;
}

function fontOf(s: Seg) {
  return `${s.it ? 'italic ' : ''}${s.size}px ${FONT}`;
}

function drawSegs(ctx: CanvasRenderingContext2D, segs: Seg[], x: number, y: number, align: 'left' | 'center') {
  let total = 0;
  const widths = segs.map((s) => {
    ctx.font = fontOf(s);
    const w = ctx.measureText(s.s).width;
    total += w;
    return w;
  });
  let cx = align === 'center' ? x - total / 2 : x;
  segs.forEach((s, i) => {
    ctx.font = fontOf(s);
    ctx.fillText(s.s, cx, y + (s.dy || 0));
    cx += widths[i];
  });
}

function shapePath(ctx: CanvasRenderingContext2D, shape: Shape, x: number, y: number, r: number) {
  ctx.beginPath();
  const k = 0.866;
  if (shape === 'up') {
    ctx.moveTo(x, y - r); ctx.lineTo(x + r * k, y + r / 2); ctx.lineTo(x - r * k, y + r / 2);
  } else if (shape === 'down') {
    ctx.moveTo(x, y + r); ctx.lineTo(x + r * k, y - r / 2); ctx.lineTo(x - r * k, y - r / 2);
  } else if (shape === 'right') {
    ctx.moveTo(x + r, y); ctx.lineTo(x - r / 2, y - r * k); ctx.lineTo(x - r / 2, y + r * k);
  } else if (shape === 'diamond') {
    ctx.moveTo(x, y - r); ctx.lineTo(x + r, y); ctx.lineTo(x, y + r); ctx.lineTo(x - r, y);
  } else {
    for (let i = 0; i < 6; i++) {
      const a = -Math.PI / 2 + (i * Math.PI) / 3;
      const px = x + r * Math.cos(a);
      const py = y + r * Math.sin(a);
      if (i === 0) ctx.moveTo(px, py); else ctx.lineTo(px, py);
    }
  }
  ctx.closePath();
}

function hexImage(color: string, r: number) {
  const c = document.createElement('canvas');
  const s = Math.ceil(r * 2 + 2);
  c.width = s;
  c.height = s;
  const g = c.getContext('2d') as CanvasRenderingContext2D;
  g.fillStyle = color;
  shapePath(g, 'hex', s / 2, s / 2, r);
  g.fill();
  return c;
}

const near = (list: number[], v: number) => list.some((l) => Math.abs(l - v) < 1e-9);

function buildConfig(p: Panel): any {
  const [bx, by, bw, bh] = p.box;
  const [pl, pt, pr, pb] = p.plot;
  const lRel = pl - bx;
  const tRel = pt - by;
  const rRel = bx + bw - pr;
  const bRel = by + bh - pb;

  const datasets: any[] = [];
  p.fits.forEach((f) => {
    datasets.push({
      data: f.t.map((t, i) => ({ x: t, y: f.y[i] })),
      showLine: true, pointRadius: 0, borderColor: '#0a0a0a', borderWidth: p.fitWidth,
      tension: 0.4, cubicInterpolationMode: p.monotone ? 'monotone' : 'default', fill: false, order: 0,
    });
  });
  p.series.forEach((s) => {
    let pointStyle: any = 'triangle';
    let rot = 0;
    if (s.shape === 'down') rot = 180;
    if (s.shape === 'right') rot = 90;
    if (s.shape === 'diamond') pointStyle = 'rectRot';
    if (s.shape === 'hex') pointStyle = hexImage(s.color, s.r);
    datasets.push({
      data: s.t.map((t, i) => ({ x: t, y: s.y[i] })),
      showLine: false, pointStyle, pointRotation: rot, pointRadius: s.r,
      pointBackgroundColor: s.color, pointBorderColor: s.color, pointBorderWidth: 0,
      order: 1, errs: s.err, errColor: rgba(s.color, 0.6),
    });
  });

  const tickFont = { family: FONT, size: 20 };
  const grid = { display: true, drawOnChartArea: false, drawTicks: true, tickLength: 4, color: '#5a5a5a', lineWidth: 1.2 };

  const decor = {
    id: 'decor' + p.key,
    beforeDatasetsDraw(chart: any) {
      const ctx: CanvasRenderingContext2D = chart.ctx;
      const a = chart.chartArea;
      const xs = chart.scales.x;
      const ys = chart.scales.y;
      ctx.save();
      ctx.beginPath();
      ctx.rect(a.left, a.top, a.right - a.left, a.bottom - a.top);
      ctx.clip();
      ctx.lineWidth = 1.4;
      const dss = chart.data.datasets.slice().reverse();
      dss.forEach((ds: any) => {
        if (!ds.errs) return;
        ctx.strokeStyle = ds.errColor;
        ds.data.forEach((d: any, i: number) => {
          const x = xs.getPixelForValue(d.x);
          ctx.beginPath();
          ctx.moveTo(x, ys.getPixelForValue(d.y - ds.errs[i]));
          ctx.lineTo(x, ys.getPixelForValue(d.y + ds.errs[i]));
          ctx.stroke();
        });
      });
      ctx.restore();
    },
    afterDraw(chart: any) {
      const ctx: CanvasRenderingContext2D = chart.ctx;
      const a = chart.chartArea;
      ctx.save();
      ctx.strokeStyle = '#6b6b6b';
      ctx.lineWidth = 1.6;
      ctx.strokeRect(a.left, a.top, a.right - a.left, a.bottom - a.top);

      ctx.fillStyle = INK;
      ctx.textBaseline = 'alphabetic';
      ctx.textAlign = 'left';
      p.texts.forEach((t) => drawSegs(ctx, t.segs, t.x - bx, t.y - by, t.align || 'left'));
      p.markers.forEach((m) => {
        ctx.fillStyle = m.color;
        shapePath(ctx, m.shape, m.x - bx, m.y - by, m.r);
        ctx.fill();
      });

      ctx.fillStyle = INK;
      ctx.save();
      ctx.translate(p.yTitle.x - bx, p.yTitle.y - by);
      ctx.rotate(-Math.PI / 2);
      drawSegs(ctx, [
        { s: 'A', size: 20, it: p.yTitle.italicA },
        { s: p.yTitle.sub, size: 12.5, dy: 4.5 },
        { s: ' (t)', size: 20 },
      ], 0, 0, 'center');
      ctx.restore();
      drawSegs(ctx, [{ s: 't', it: true, size: 20 }, { s: ' (μs)', size: 20 }], p.xTitle.x - bx, p.xTitle.y - by, 'center');
      ctx.restore();
    },
  };

  return {
    type: 'scatter',
    data: { datasets },
    options: {
      animation: false,
      responsive: false,
      maintainAspectRatio: false,
      events: [],
      layout: { autoPadding: false, padding: { left: 0, top: tRel, right: rRel, bottom: 0 } },
      plugins: { legend: { display: false }, tooltip: { enabled: false }, title: { display: false } },
      scales: {
        x: {
          type: 'linear', position: 'bottom', min: 0, max: p.xMax,
          afterBuildTicks: (s: any) => { s.ticks = p.xTicks.map((v) => ({ value: v })); },
          afterFit: (s: any) => { s.height = bRel; },
          ticks: {
            autoSkip: false, maxRotation: 0, minRotation: 0, padding: 9, color: INK, font: tickFont,
            callback: (v: number) => (near(p.xLabels, v) ? String(Math.round(v)) : ''),
          },
          grid, border: { display: false },
        },
        y: {
          type: 'linear', position: 'left', min: p.yMin, max: p.yMax,
          afterBuildTicks: (s: any) => { s.ticks = p.yTicks.map((v) => ({ value: v })); },
          afterFit: (s: any) => { s.width = lRel; },
          ticks: {
            autoSkip: false, padding: 12, color: INK, font: tickFont,
            callback: (v: number) => (near(p.yLabels, v) ? (Math.abs(v) < 1e-9 ? '0.00' : v.toFixed(2)) : ''),
          },
          grid, border: { display: false },
        },
      },
    },
    plugins: [decor],
  };
}

function PanelChart({ p }: { p: Panel }) {
  const ref = useRef<HTMLCanvasElement>(null);
  useEffect(() => {
    if (!ref.current) return;
    const chart = new Chart(ref.current, buildConfig(p));
    return () => chart.destroy();
  }, [p]);
  const [bx, by, bw, bh] = p.box;
  return (
    <canvas
      ref={ref}
      width={bw}
      height={bh}
      style={{ position: 'absolute', left: bx, top: by, width: bw, height: bh, display: 'block' }}
    />
  );
}

export default function App() {
  return (
    <div style={{ position: 'fixed', left: 0, top: 0, width: 1241, height: 684, background: '#ffffff', overflow: 'hidden' }}>
      {panels.map((p) => (
        <PanelChart key={p.key} p={p} />
      ))}
    </div>
  );
}
